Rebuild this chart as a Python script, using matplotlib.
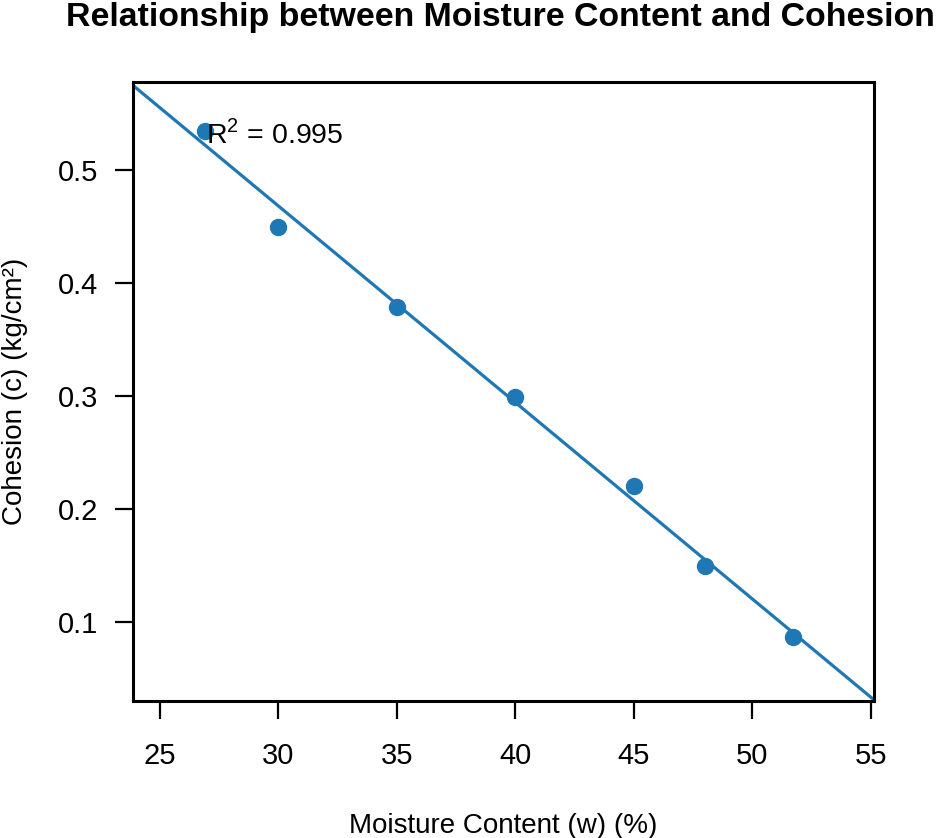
import matplotlib
matplotlib.use("Agg")
import matplotlib.pyplot as plt
import numpy as np

moisture = [26.9, 30.0, 35.0, 40.0, 45.0, 48.0, 51.7]
cohesion = [0.535, 0.450, 0.379, 0.299, 0.220, 0.150, 0.087]
x_ticks = [25, 30, 35, 40, 45, 50, 55]
y_ticks = [0.1, 0.2, 0.3, 0.4, 0.5]
r2_label = r"R$^{2}$ = 0.995"
title = "Relationship between Moisture Content and Cohesion"
xlabel = "Moisture Content (w) (%)"
ylabel = "Cohesion (c) (kg/cm²)"

plt.rcParams['font.family'] = ['Liberation Sans', 'DejaVu Sans']
plt.rcParams['mathtext.fontset'] = 'custom'
plt.rcParams['mathtext.rm'] = 'Liberation Sans'

W, H = 945, 838
fig = plt.figure(figsize=(W/100, H/100), dpi=100)
ax = fig.add_axes([132.7/W, 1-700.7/H, (874-132.7)/W, (700.7-82)/H])
blue = '#1f77b4'

xl = (23.85, 55.14)
yl = (0.0304, 0.578)
ax.set_xlim(*xl)
ax.set_ylim(*yl)

slope, intercept = np.polyfit(moisture, cohesion, 1)
xx = np.array(xl)
ax.plot(xx, slope*xx + intercept, color=blue, lw=2.3, zorder=2, clip_on=True)
ax.plot(moisture, cohesion, 'o', color=blue, ms=11.5, zorder=3)

ax.text(26.95, 0.532, r2_label, fontsize=20.5, ha='left', va='center', zorder=4)

ax.set_xticks(x_ticks)
ax.set_yticks(y_ticks)
ax.set_xticklabels([str(t) for t in x_ticks])
ax.set_yticklabels([f"{t:.1f}" for t in y_ticks])
ax.tick_params(axis='both', direction='out', length=13, width=1.6, labelsize=21)
ax.tick_params(axis='x', pad=17)
ax.tick_params(axis='y', pad=12)
for s in ax.spines.values():
    s.set_linewidth(2.2)

fig.text(503/W, 1-833/H, xlabel, fontsize=20, ha='center', va='baseline')
fig.text(15/W, 1-391/H, ylabel, fontsize=20, ha='center', va='center', rotation=90)
fig.text(500/W, 1-26/H, title, fontsize=24.4, fontweight='bold', ha='center', va='baseline')

fig.savefig('out.png', dpi=100)
